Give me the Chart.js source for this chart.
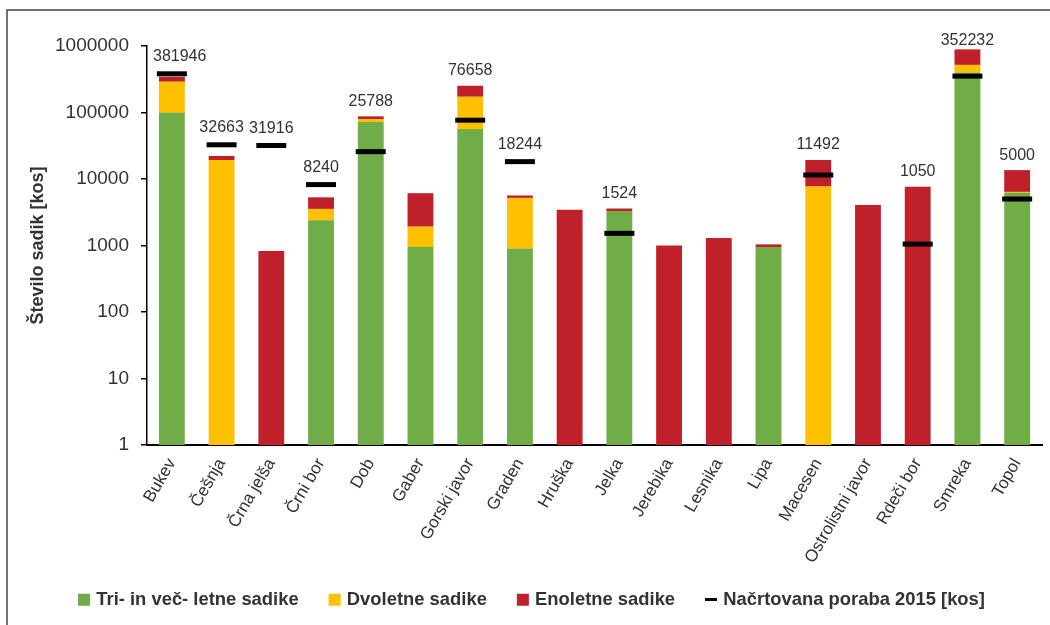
<!DOCTYPE html>
<html>
<head>
<meta charset="utf-8">
<script src="https://cdn.jsdelivr.net/npm/chart.js@4/dist/chart.umd.min.js"></script>
<style>
  html, body { margin: 0; padding: 0; background: #fff; }
  #wrap { width: 1050px; height: 625px; position: relative; }
</style>
</head>
<body>
<div id="wrap"><canvas id="c"></canvas></div>
<script>
// vrste drevja
const categories = ['Bukev', 'Češnja', 'Črna jelša', 'Črni bor', 'Dob', 'Gaber', 'Gorski javor', 'Graden', 'Hruška',
    'Jelka', 'Jerebika', 'Lesnika', 'Lipa', 'Macesen', 'Ostrolistni javor', 'Rdeči bor', 'Smreka', 'Topol'];

// sadike po starosti (ocenjeno iz slike)
const triLetne = [100000, null, null, 2400, 72000, 950, 56500, 900, null, 3300, null, null, 950, null, null, null, 400000, 6200];
const dvoletne = [190000, 19300, null, 1150, 7000, 970, 116000, 4300, null, null, null, null, null, 7700, null, null, 120000, 200];
const enoletne = [55000, 2900, 830, 1750, 8500, 4200, 80000, 450, 3450, 300, 1000, 1300, 90, 11600, 4060, 7660, 370000, 7200];

// načrtovana poraba 2015
const planirano = [381946, 32663, 31916, 8240, 25788, null, 76658, 18244, null, 1524, null, null, null, 11492, null, 1050, 352232, 5000];

const yTicks = [1, 10, 100, 1000, 10000, 100000, 1000000];

const FONT = '"Liberation Sans", Arial, sans-serif';
const TXT = '#333333';

// mali črni znak za legendo
const lineMark = document.createElement('canvas');
lineMark.width = 12;
lineMark.height = 3;
lineMark.getContext('2d').fillRect(0, 0, 12, 3);

// okvir okoli slike
const frame = {
    id: 'frame',
    beforeDraw(chart) {
        const ctx = chart.ctx;
        ctx.save();
        ctx.fillStyle = '#fff';
        ctx.fillRect(0, 0, chart.width, chart.height);
        ctx.strokeStyle = '#444';
        ctx.lineWidth = 1.5;
        ctx.beginPath();
        ctx.moveTo(7, chart.height);
        ctx.lineTo(7, 10);
        ctx.lineTo(chart.width, 10);
        ctx.stroke();
        ctx.restore();
    }
};

// številke nad črnimi oznakami
const planLabels = {
    id: 'planLabels',
    afterDatasetsDraw(chart) {
        const meta = chart.getDatasetMeta(3);
        const y = chart.scales.y;
        const left = chart.chartArea.left;
        const ctx = chart.ctx;
        ctx.save();
        ctx.font = '16px ' + FONT;
        ctx.fillStyle = TXT;
        ctx.textAlign = 'center';
        ctx.textBaseline = 'middle';
        meta.data.forEach((pt, i) => {
            if (planirano[i] == null) return;
            const txt = String(planirano[i]);
            const total = (triLetne[i] || 0) + (dvoletne[i] || 0) + (enoletne[i] || 0);
            const top = Math.min(pt.y - 2, y.getPixelForValue(total));
            // ne čez os y
            const x = Math.max(pt.x, left + ctx.measureText(txt).width / 2 + 6);
            ctx.fillText(txt, x, Math.max(41, top - 15));
        });
        ctx.restore();
    }
};

Chart.defaults.font.family = FONT;
Chart.defaults.color = TXT;

const barDefaults = { barPercentage: 0.52, categoryPercentage: 1, order: 1 };

new Chart(document.getElementById('c'), {
    data: {
        labels: categories,
        datasets: [
            { type: 'bar', label: 'Tri- in več- letne sadike', data: triLetne, backgroundColor: '#70ad47', ...barDefaults },
            { type: 'bar', label: 'Dvoletne sadike', data: dvoletne, backgroundColor: '#ffc000', ...barDefaults },
            { type: 'bar', label: 'Enoletne sadike', data: enoletne, backgroundColor: '#c0202a', ...barDefaults },
            {
                type: 'line', label: 'Načrtovana poraba 2015 [kos]', data: planirano, stack: 'plan', order: 0,
                showLine: false, pointStyle: 'line', pointRadius: 15, pointHoverRadius: 15,
                borderColor: '#000', backgroundColor: '#000', borderWidth: 5, pointBorderWidth: 5
            }
        ]
    },
    options: {
        responsive: true,
        maintainAspectRatio: false,
        animation: false,
        layout: { autoPadding: false, padding: { left: 24, top: 46, right: 8, bottom: 6 } },
        scales: {
            x: {
                stacked: true,
                afterFit(axis) {
                    axis.paddingLeft = 0;
                    axis.paddingRight = 0;
                    // spodnji rob risalne površine na y = 445
                    axis.height = 625 - 6 - 445 - axis.chart.legend.height;
                    // dolge oznake naj se ne odrežejo na robu osi
                    axis._computeLabelArea = () => undefined;
                },
                grid: { display: false },
                border: { display: true, color: '#000', width: 2 },
                ticks: { color: TXT, font: { size: 17 }, maxRotation: 60, minRotation: 60, autoSkip: false, padding: 2 }
            },
            y: {
                type: 'logarithmic',
                stacked: true,
                min: 1,
                max: 1000000,
                afterBuildTicks(axis) { axis.ticks = yTicks.map(v => ({ value: v })); },
                afterFit(axis) { axis.width = 123; },
                grid: { display: true, drawOnChartArea: false, drawTicks: true, tickLength: 6, color: '#000', lineWidth: 1.5 },
                border: { display: true, color: '#000', width: 1.5 },
                ticks: { color: TXT, font: { size: 19 }, padding: 12, callback: v => String(v) },
                title: {
                    display: true, text: 'Število sadik [kos]', color: TXT,
                    font: { size: 18, weight: 'bold' }, padding: { top: 3, bottom: 6 }
                }
            }
        },
        plugins: {
            legend: {
                position: 'bottom',
                labels: {
                    usePointStyle: true, boxWidth: 6, boxHeight: 12, padding: 33,
                    color: TXT, font: { size: 18.4, weight: 'bold' },
                    sort: (a, b) => a.datasetIndex - b.datasetIndex,
                    generateLabels(chart) {
                        const items = Chart.defaults.plugins.legend.labels.generateLabels(chart);
                        items.forEach(it => {
                            it.lineWidth = 0;
                            it.pointStyle = it.datasetIndex === 3 ? lineMark : 'rect';
                        });
                        return items;
                    }
                }
            },
            tooltip: { enabled: false }
        }
    },
    plugins: [frame, planLabels]
});
</script>
</body>
</html>
